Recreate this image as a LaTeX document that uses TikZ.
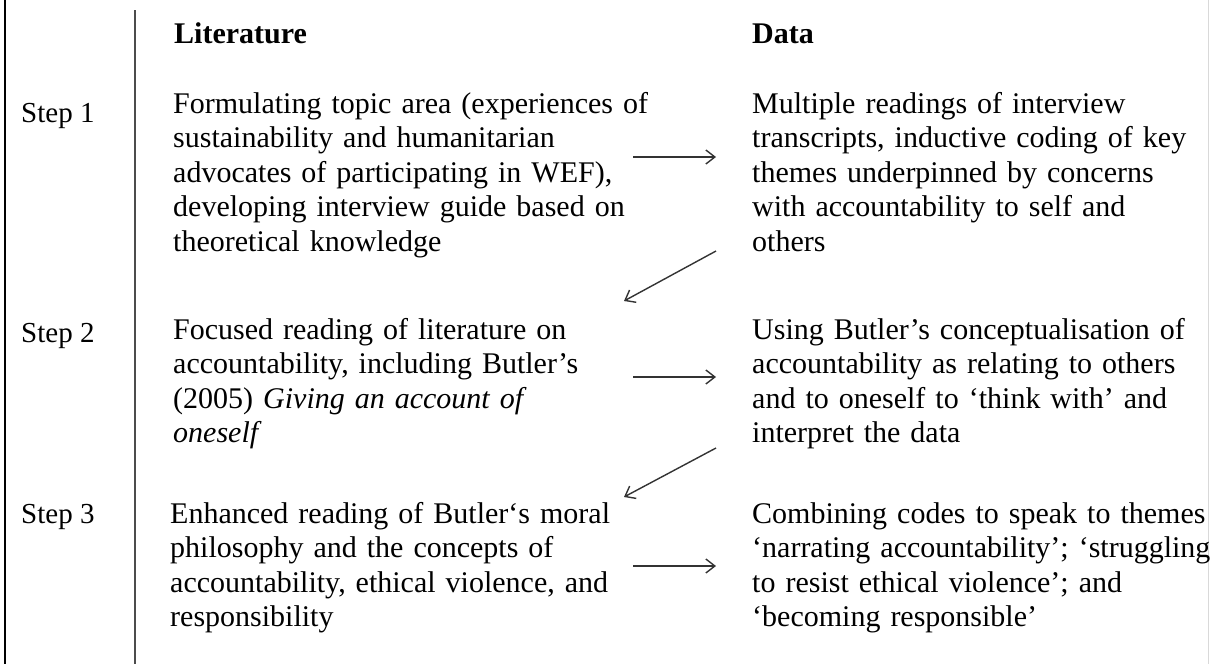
\documentclass[tikz,border=0pt]{standalone}
\usepackage{fontspec}
\setmainfont{Liberation Serif}
\usetikzlibrary{arrows.meta}
\begin{document}
\begin{tikzpicture}[x=1pt,y=-1pt,
  txt/.style={anchor=base west, inner sep=0pt, align=left, text width=520pt,
    font=\fontsize{30}{34.5}\selectfont},
  head/.style={anchor=base west, inner sep=0pt, font=\fontsize{30}{34.5}\selectfont\bfseries},
  steplabel/.style={anchor=base west, inner sep=0pt, font=\fontsize{29}{34.5}\selectfont},
  arr/.style={draw=black!80, line width=1.4pt, -{Straight Barb[length=9pt,width=14pt]}},
  rule/.style={draw=black!70, line width=1.8pt}]
\useasboundingbox (0,0) rectangle (1210,664);
% frame lines
\coordinate (bl1) at (5,0);
\coordinate (bl2) at (5,664);
\draw[black, line width=2pt] (bl1) -- (bl2);
\coordinate (br1) at (1208.5,0);
\coordinate (br2) at (1208.5,664);
\draw[black!15, line width=1.5pt] (br1) -- (br2);
\coordinate (sep1) at (135,10);
\coordinate (sep2) at (135,664);
\draw[rule] (sep1) -- (sep2);
% headings
\node[head] (hlit) at (174,43) {Literature};
\node[head] (hdata) at (752,43) {Data};
% step labels
\node[steplabel] (s1) at (21,122) {Step 1};
\node[steplabel] (s2) at (21,342) {Step 2};
\node[steplabel] (s3) at (21,523) {Step 3};
% left column
\node[txt] (l1) at (173,113) {Formulating topic area (experiences of\\
sustainability and humanitarian\\
advocates of participating in WEF),\\
developing interview guide based on\\
theoretical knowledge};
\node[txt] (l2) at (173,339) {Focused reading of literature on\\
accountability, including Butler’s\\
(2005) \textit{Giving an account of}\\
\textit{oneself}};
\node[txt] (l3) at (170,523) {Enhanced reading of Butler‘s moral\\
philosophy and the concepts of\\
accountability, ethical violence, and\\
responsibility};
% right column
\node[txt] (r1) at (752,113) {Multiple readings of interview\\
transcripts, inductive coding of key\\
themes underpinned by concerns\\
with accountability to self and\\
others};
\node[txt] (r2) at (752,339) {Using Butler’s conceptualisation of\\
accountability as relating to others\\
and to oneself to ‘think with’ and\\
interpret the data};
\node[txt] (r3) at (752,523) {Combining codes to speak to themes\\
‘narrating accountability’; ‘struggling\\
to resist ethical violence’; and\\
‘becoming responsible’};
% arrows
\coordinate (a1s) at (633,157); \coordinate (a1e) at (716,157);
\coordinate (d1s) at (716,251); \coordinate (d1e) at (624,301);
\coordinate (a2s) at (633,377); \coordinate (a2e) at (716,377);
\coordinate (d2s) at (716,448); \coordinate (d2e) at (624,497);
\coordinate (a3s) at (633,566); \coordinate (a3e) at (716,566);
\draw[arr] (a1s) -- (a1e);
\draw[arr] (d1s) -- (d1e);
\draw[arr] (a2s) -- (a2e);
\draw[arr] (d2s) -- (d2e);
\draw[arr] (a3s) -- (a3e);
\end{tikzpicture}
\end{document}
